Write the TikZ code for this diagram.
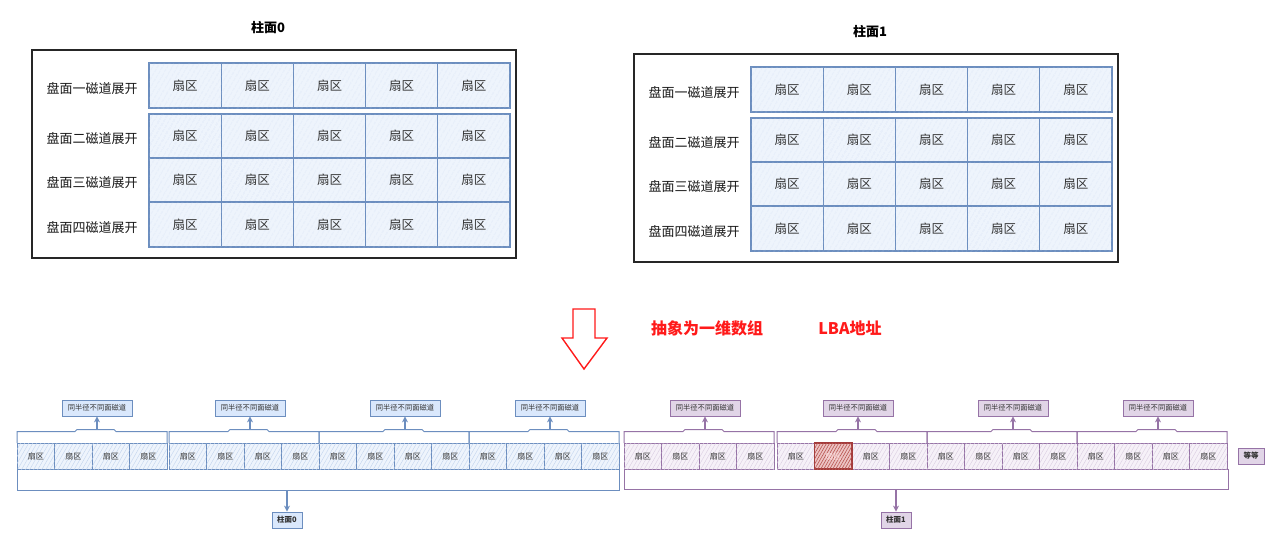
\documentclass[tikz,border=0pt]{standalone}
\usepackage{fontspec}
\setmainfont{Noto Sans CJK SC}
\usetikzlibrary{patterns.meta,arrows.meta}
\definecolor{bstroke}{HTML}{6C8EBF}
\definecolor{bfill}{HTML}{EEF4FC}
\definecolor{bhatch}{HTML}{C2D4EE}
\definecolor{blabel}{HTML}{DAE8FC}
\definecolor{pstroke}{HTML}{9673A6}
\definecolor{pfill}{HTML}{F6F1F8}
\definecolor{phatch}{HTML}{DACDE1}
\definecolor{plabel}{HTML}{E1D5E7}
\definecolor{rstroke}{HTML}{A33B3B}
\definecolor{rfill}{HTML}{EDC4C4}
\definecolor{rhatch}{HTML}{B85450}
\definecolor{txt}{HTML}{333333}
\definecolor{redtxt}{HTML}{FF1A1A}
\begin{document}
\begin{tikzpicture}[x=1pt,y=-1pt,
  frame/.style={draw=black!85, line width=1.3pt, inner sep=0pt, minimum width=484pt, minimum height=208pt},
  title/.style={font=\fontsize{13}{15}\selectfont\bfseries, text=black},
  rowlab/.style={font=\fontsize{13}{15}\selectfont, text=black!90, inner sep=0pt},
  bigcell/.style={draw=bstroke, line width=1.2pt, fill=bfill, minimum width=72.2pt, inner sep=0pt,
    font=\fontsize{12.5}{14}\selectfont, text=txt,
    postaction={pattern={Lines[angle=60,distance=4pt,line width=0.45pt]}, pattern color=bhatch}},
  scell/.style={draw=#1stroke, line width=0.8pt, fill=#1fill, minimum width=37.5pt, minimum height=26pt, inner sep=0pt,
    font=\fontsize{8}{9}\selectfont, text=txt,
    postaction={pattern={Lines[angle=60,distance=3.5pt,line width=0.4pt]}, pattern color=#1hatch}},
  redcell/.style={draw=rstroke, line width=1.1pt, fill=rfill, minimum width=37.5pt, minimum height=26pt, inner sep=0pt,
    font=\fontsize{8}{9}\selectfont, text=white!90!red,
    postaction={pattern={Lines[angle=60,distance=2.6pt,line width=0.6pt]}, pattern color=rhatch}},
  slabel/.style={draw=#1stroke, line width=0.8pt, fill=#1label, minimum width=70pt, minimum height=16pt, inner sep=0pt,
    font=\fontsize{7.3}{8}\selectfont, text=txt},
  brace/.style={draw=#1stroke, line width=1pt},
  arr/.style={draw=#1stroke, line width=1.3pt, -{Stealth[length=6pt,width=6pt]}}
]
\fill[white] (0,0) rectangle (1280,549);
\useasboundingbox (0,0) rectangle (1280,549);

% ---- top: two cylinders ----
\foreach \k in {0,1}{
  \pgfmathsetmacro\ox{\k*602}
  \pgfmathsetmacro\oy{\k*4}
  \node[frame] (f\k) at (\ox+274,\oy+154) {};
  \node[title] (t\k) at (\ox+268,\oy+28) {柱面\k};
  \foreach \r/\top/\h/\lab in {1/63/45/一, 2/114/44/二, 3/158/44/三, 4/202/45/四}{
    \node[rowlab] (l\k-\r) at (\ox+92, \oy+\top+\h/2+3) {盘面\lab 磁道展开};
    \foreach \c in {0,...,4}{
      \node[bigcell, minimum height={\h pt}] (c\k-\r-\c) at (\ox+149+72.2*\c+36.1, \oy+\top+\h/2) {扇区};
    }
  }
}

% ---- red arrow and texts ----
\draw[draw=redtxt, line width=1.4pt, fill=white, line join=miter]
  (573,309) -- (595,309) -- (595,338) -- (607,338) -- (584,369) -- (562,338) -- (573,338) -- cycle;
\node[font=\fontsize{16}{18}\selectfont\bfseries, text=redtxt] (abs) at (707,328) {抽象为一维数组};
\node[font=\fontsize{16}{18}\selectfont\bfseries, text=redtxt] (lba) at (850,328) {LBA地址};

% ---- bottom: linear array ----
\foreach \g/\gx/\ax/\col in {0/17/97/b, 1/169/250/b, 2/319/405/b, 3/469/550/b, 4/624/705/p, 5/777/858/p, 6/927/1013/p, 7/1077/1158/p}{
  \foreach \c in {0,...,3}{
    \pgfmathtruncatemacro\isred{and(\g==5,\c==1)}
    \ifnum\isred=0
      \node[scell=\col] (s\g-\c) at (\gx+37.5*\c+18.75, 456) {扇区};
    \fi
  }
  \node[slabel=\col] (lab\g) at (\ax, 408) {同半径不同面磁道};
  \coordinate (bt\g) at (\ax, 429.5);
  \draw[brace=\col] (\gx,443) -- (\gx,431.5) -- (\ax-22,431.5) -- (\ax-20,429.5) -- (\ax+17,429.5) -- (\ax+19,431.5) -- (\gx+150,431.5) -- (\gx+150,443);
  \draw[arr=\col] (bt\g) -- (lab\g);
}
\node[redcell] (s5-1) at (777+37.5+18.75, 456) {扇区};

% bottom braces and cylinder labels
\node[slabel=b, minimum width=30pt, font=\fontsize{7.5}{8}\selectfont\bfseries] (cyl0) at (287,520) {柱面0};
\node[slabel=p, minimum width=30pt, font=\fontsize{7.5}{8}\selectfont\bfseries] (cyl1) at (896,520) {柱面1};
\coordinate (bb0) at (287,490);
\coordinate (bb1) at (896,489);
\draw[brace=b] (17,469) -- (17,490) -- (619,490) -- (619,469);
\draw[brace=p] (624,469) -- (624,489) -- (1228,489) -- (1228,469);
\draw[arr=b] (bb0) -- (cyl0);
\draw[arr=p] (bb1) -- (cyl1);

\node[slabel=p, minimum width=26pt, font=\fontsize{7.5}{8}\selectfont\bfseries] (etc) at (1251,456) {等等};
\end{tikzpicture}
\end{document}
